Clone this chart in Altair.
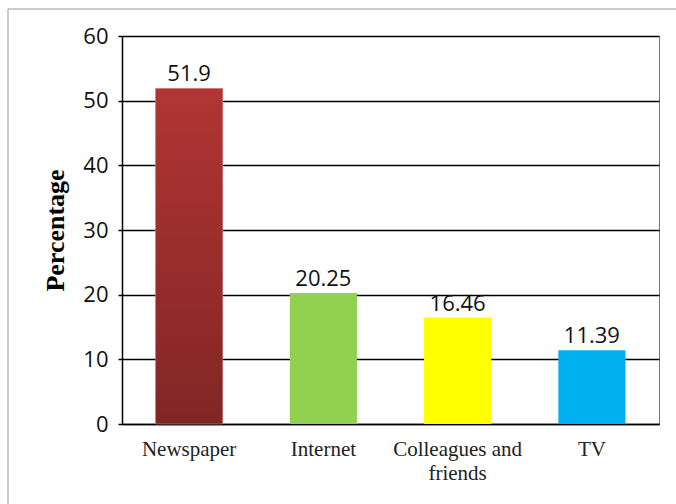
import altair as alt
import pandas as pd

categories = ["Newspaper", "Internet", "Colleagues and friends", "TV"]
values = [51.9, 20.25, 16.46, 11.39]
labels = ["51.9", "20.25", "16.46", "11.39"]
colors = ["#9c2e2d", "#92d050", "#ffff00", "#00b0f0"]

df = pd.DataFrame({"cat": categories, "val": values, "lab": labels})

W, H = 537, 388

x = alt.X("cat:N", sort=categories, title=None,
          scale=alt.Scale(paddingInner=0.5, paddingOuter=0.25),
          axis=alt.Axis(labelFont="Liberation Serif", labelFontSize=21, labelColor="#222",
                        labelAngle=0, labelPadding=14, ticks=False, domain=True,
                        domainColor="#000", domainWidth=1.5,
                        labelExpr="datum.value == 'Colleagues and friends' ? ['Colleagues and', 'friends'] : datum.value",
                        labelLineHeight=24))
y = alt.Y("val:Q", title="Percentage",
          scale=alt.Scale(domain=[0, 60]),
          axis=alt.Axis(values=[0, 10, 20, 30, 40, 50, 60], grid=True, gridColor="#000",
                        gridWidth=1.5, domainColor="#000", domainWidth=1.5,
                        tickColor="#000", tickSize=4, tickWidth=1.5,
                        labelFont="Open Sans", labelFontSize=22, labelColor="#111",
                        labelPadding=10,
                        titleFont="Liberation Serif", titleFontSize=26, titleFontWeight="bold",
                        titleColor="#000", titlePadding=14))

base = alt.Chart(df)

bars = base.mark_bar().encode(
    x=x, y=y,
    color=alt.Color("cat:N", sort=categories, legend=None,
                    scale=alt.Scale(domain=categories, range=colors)),
)

grad = {"gradient": "linear", "x1": 0, "y1": 0, "x2": 0, "y2": 1,
        "stops": [{"offset": 0, "color": "#b13534"}, {"offset": 1, "color": "#812625"}]}
news = base.transform_filter(alt.datum.cat == "Newspaper").mark_bar(
    color=grad, stroke="#d9a0a0", strokeWidth=0.5).encode(x=x, y=y)

text = base.mark_text(baseline="bottom", dy=-2, font="Open Sans", fontSize=22,
                      color="#111").encode(x=x, y=y, text="lab:N")

border = alt.Chart(pd.DataFrame({"a": [0]})).mark_rect(
    fill=None, stroke="#999", strokeWidth=1).encode(
    x=alt.value(-114), x2=alt.value(W + 40), y=alt.value(-27), y2=alt.value(H + 100))

chart = alt.layer(border, bars, news, text).properties(
    width=W, height=H,
    autosize=alt.AutoSizeParams(type="none"),
    padding={"left": 122, "top": 36, "right": 17, "bottom": 80},
).configure_view(stroke="#777", strokeWidth=1)

chart.save("out.html", embed_options={"renderer": "svg", "actions": False})
